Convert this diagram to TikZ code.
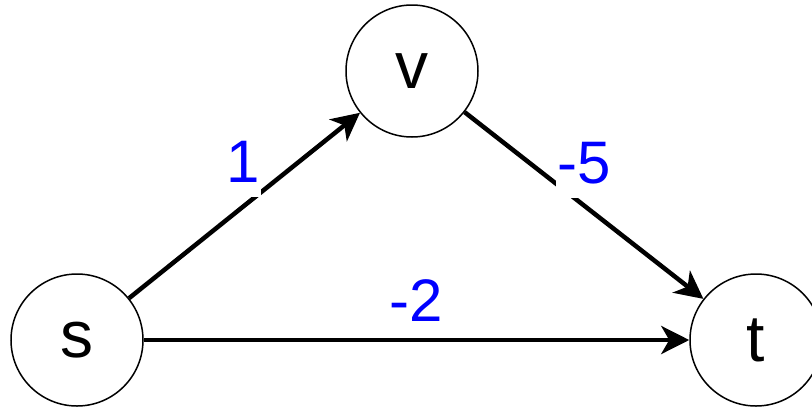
\documentclass[tikz,border=0pt]{standalone}
\usepackage{fontspec}
\setmainfont{Liberation Sans}
\usetikzlibrary{arrows.meta}
\definecolor{lblblue}{RGB}{0,0,255}
\tikzset{
  vertex/.style={circle, draw=black, line width=1.5pt, minimum size=132pt, inner sep=0pt, fill=white,
                 font=\fontsize{66}{72}\selectfont},
  edge/.style={line width=4.5pt, -{Stealth[length=28pt,width=28pt,inset=8pt]}},
  wlabel/.style={anchor=base, fill=white, text=lblblue, inner sep=1pt, text height=45pt, text depth=14pt,
                 font=\fontsize{60}{66}\selectfont}
}
\begin{document}
\begin{tikzpicture}[x=1pt,y=-1pt]
\useasboundingbox[fill=white] (0,0) rectangle (812,408);
\node[vertex] (v) at (412,71) {v};
\node[vertex] (s) at (77,340) {s};
\node[vertex] (t) at (756,340) {t};
\draw[edge] (s) -- (v);
\draw[edge] (v) -- (t);
\draw[edge] (s) -- (t);
\node[wlabel] (l1) at (243,182) {1};
\node[wlabel] (l5) at (584,183) {-5};
\node[wlabel] (l2) at (416,321) {-2};
\end{tikzpicture}
\end{document}
